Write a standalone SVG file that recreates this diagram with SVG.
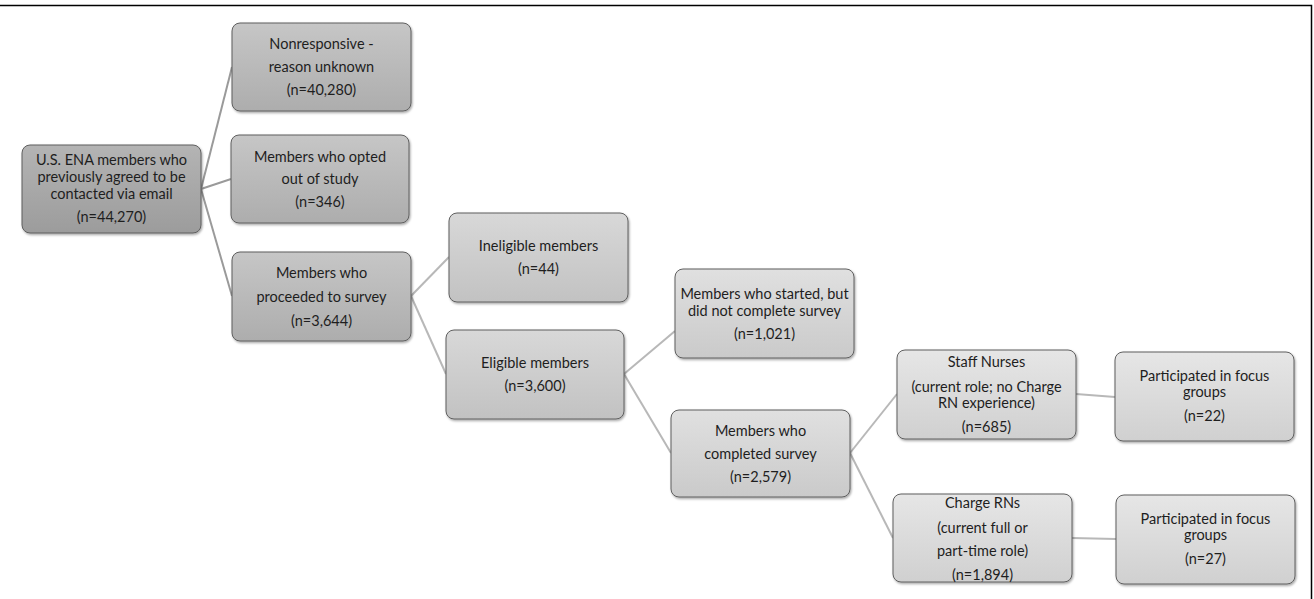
<svg xmlns="http://www.w3.org/2000/svg" width="1314" height="599" viewBox="0 0 1314 599">
  <defs>
    <linearGradient id="g1" x1="0" y1="0" x2="0" y2="1">
      <stop offset="0" stop-color="#b4b4b4"/>
      <stop offset="1" stop-color="#9c9c9c"/>
    </linearGradient>
    <linearGradient id="g2" x1="0" y1="0" x2="0" y2="1">
      <stop offset="0" stop-color="#c6c6c6"/>
      <stop offset="1" stop-color="#adadad"/>
    </linearGradient>
    <linearGradient id="g3" x1="0" y1="0" x2="0" y2="1">
      <stop offset="0" stop-color="#d8d8d8"/>
      <stop offset="1" stop-color="#c2c2c2"/>
    </linearGradient>
    <linearGradient id="g4" x1="0" y1="0" x2="0" y2="1">
      <stop offset="0" stop-color="#e0e0e0"/>
      <stop offset="1" stop-color="#cacaca"/>
    </linearGradient>
    <linearGradient id="g5" x1="0" y1="0" x2="0" y2="1">
      <stop offset="0" stop-color="#e6e6e6"/>
      <stop offset="1" stop-color="#d0d0d0"/>
    </linearGradient>
    <filter id="shadow" x="-5%" y="-5%" width="115%" height="120%">
      <feDropShadow dx="1" dy="1.5" stdDeviation="1" flood-color="#000" flood-opacity="0.35"/>
    </filter>
  </defs>
  <style>
    .box { stroke: #5f5f5f; stroke-width: 1; filter: url(#shadow); }
    .l1 { fill: url(#g1); }
    .l2 { fill: url(#g2); }
    .l3 { fill: url(#g3); }
    .l4 { fill: url(#g4); }
    .l5 { fill: url(#g5); }
    text { font-family: Lato, "Liberation Sans", Arial, sans-serif; font-size: 14.5px; fill: #1e1e1e; text-anchor: middle; }
    .conn line { stroke-width: 2; fill: none; }
    .c1 { stroke: #9a9a9a; }
    .c2 { stroke: #b8b8b8; }
    .frame { stroke: #000; stroke-width: 1.5; fill: none; }
  </style>

  <rect width="1314" height="599" fill="#fff"/>

  <!-- page frame -->
  <path class="frame" d="M0 5.5 H1311.5 V599"/>

  <!-- connectors -->
  <g id="connectors" class="conn">
    <line class="c1" x1="201" y1="189" x2="232" y2="67"/>
    <line class="c1" x1="201" y1="189" x2="231" y2="179"/>
    <line class="c1" x1="201" y1="189" x2="232" y2="296"/>
    <line class="c2" x1="411" y1="296" x2="449" y2="257"/>
    <line class="c2" x1="411" y1="296" x2="446" y2="374"/>
    <line class="c2" x1="624" y1="374" x2="675" y2="331"/>
    <line class="c2" x1="624" y1="374" x2="671" y2="453"/>
    <line class="c2" x1="850" y1="453" x2="897" y2="394"/>
    <line class="c2" x1="850" y1="453" x2="893" y2="538"/>
    <line class="c2" x1="1076" y1="394" x2="1115" y2="397"/>
    <line class="c2" x1="1072" y1="538" x2="1116" y2="539"/>
  </g>

  <!-- root -->
  <g id="root">
    <rect class="box l1" x="22" y="145" width="179" height="88" rx="8"/>
    <text x="111.5" y="165">U.S. ENA members who</text>
    <text x="111.5" y="182">previously agreed to be</text>
    <text x="111.5" y="199">contacted via email</text>
    <text x="111.5" y="222">(n=44,270)</text>
  </g>

  <g id="nonresponsive">
    <rect class="box l2" x="232" y="23" width="179" height="88" rx="8"/>
    <text x="321.5" y="49">Nonresponsive -</text>
    <text x="321.5" y="72">reason unknown</text>
    <text x="321.5" y="95">(n=40,280)</text>
  </g>

  <g id="opted-out">
    <rect class="box l2" x="231" y="135" width="178" height="88" rx="8"/>
    <text x="320" y="162">Members who opted</text>
    <text x="320" y="184">out of study</text>
    <text x="320" y="207">(n=346)</text>
  </g>

  <g id="proceeded">
    <rect class="box l2" x="232" y="252" width="179" height="89" rx="8"/>
    <text x="321.5" y="278">Members who</text>
    <text x="321.5" y="302">proceeded to survey</text>
    <text x="321.5" y="326">(n=3,644)</text>
  </g>

  <g id="ineligible">
    <rect class="box l3" x="449" y="213" width="179" height="89" rx="8"/>
    <text x="538.5" y="251">Ineligible members</text>
    <text x="538.5" y="274">(n=44)</text>
  </g>

  <g id="eligible">
    <rect class="box l3" x="446" y="330" width="178" height="89" rx="8"/>
    <text x="535" y="368">Eligible members</text>
    <text x="535" y="391">(n=3,600)</text>
  </g>

  <g id="incomplete">
    <rect class="box l4" x="675" y="269" width="179" height="89" rx="8"/>
    <text x="764.5" y="299">Members who started, but</text>
    <text x="764.5" y="316">did not complete survey</text>
    <text x="764.5" y="339">(n=1,021)</text>
  </g>

  <g id="completed">
    <rect class="box l4" x="671" y="410" width="179" height="87" rx="8"/>
    <text x="760.5" y="436">Members who</text>
    <text x="760.5" y="459">completed survey</text>
    <text x="760.5" y="482">(n=2,579)</text>
  </g>

  <g id="staff-nurses">
    <rect class="box l5" x="897" y="350" width="179" height="89" rx="8"/>
    <text x="986.5" y="367">Staff Nurses</text>
    <text x="986.5" y="392">(current role; no Charge</text>
    <text x="986.5" y="408">RN experience)</text>
    <text x="986.5" y="432">(n=685)</text>
  </g>

  <g id="focus-staff">
    <rect class="box l5" x="1115" y="352" width="179" height="89" rx="8"/>
    <text x="1204.5" y="381">Participated in focus</text>
    <text x="1204.5" y="397">groups</text>
    <text x="1204.5" y="421">(n=22)</text>
  </g>

  <g id="charge-rns">
    <rect class="box l5" x="893" y="494" width="179" height="88" rx="8"/>
    <text x="982.5" y="508">Charge RNs</text>
    <text x="982.5" y="533">(current full or</text>
    <text x="982.5" y="556">part-time role)</text>
    <text x="982.5" y="580">(n=1,894)</text>
  </g>

  <g id="focus-charge">
    <rect class="box l5" x="1116" y="495" width="179" height="89" rx="8"/>
    <text x="1205.5" y="524">Participated in focus</text>
    <text x="1205.5" y="540">groups</text>
    <text x="1205.5" y="564">(n=27)</text>
  </g>
</svg>
